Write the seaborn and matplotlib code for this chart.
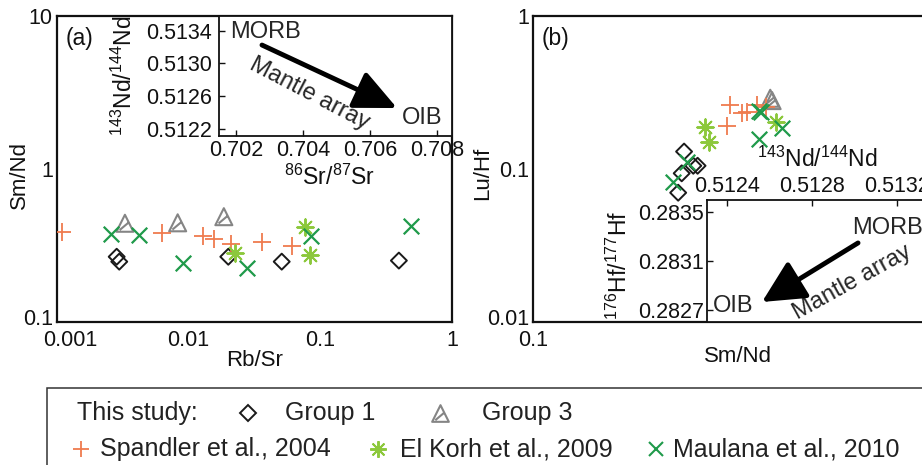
import numpy as np
import pandas as pd
import matplotlib
matplotlib.use("Agg")
import matplotlib.pyplot as plt
import seaborn as sns
from matplotlib.path import Path
from matplotlib.lines import Line2D
from matplotlib.patches import Rectangle
from matplotlib.transforms import ScaledTranslation

# ---------------- data: panel (a)  Rb/Sr vs Sm/Nd ----------------
a_g1_rbsr = [0.00284, 0.00297, 0.020, 0.0509, 0.395]
a_g1_smnd = [0.267, 0.248, 0.267, 0.248, 0.252]
a_g3_rbsr = [0.00328, 0.00825, 0.0185]
a_g3_smnd = [0.442, 0.445, 0.488]
a_sp_rbsr = [0.0011, 0.0063, 0.0129, 0.0156, 0.021, 0.0362, 0.0612]
a_sp_smnd = [0.386, 0.38, 0.365, 0.348, 0.324, 0.335, 0.314]
a_ek_rbsr = [0.0226, 0.0769, 0.0834]
a_ek_smnd = [0.284, 0.416, 0.273]
a_ma_rbsr = [0.00257, 0.00422, 0.009, 0.0279, 0.0848, 0.485]
a_ma_smnd = [0.376, 0.37, 0.244, 0.224, 0.366, 0.424]

# ---------------- data: panel (b)  Sm/Nd vs Lu/Hf ----------------
b_g1_smnd = [0.2336, 0.246, 0.252, 0.2305, 0.226]
b_g1_luhf = [0.130, 0.105, 0.105, 0.0937, 0.070]
b_g3_smnd = [0.379, 0.383]
b_g3_luhf = [0.29, 0.28]
b_sp_smnd = [0.303, 0.297, 0.323, 0.332, 0.351, 0.370]
b_sp_luhf = [0.262, 0.191, 0.231, 0.235, 0.262, 0.254]
b_ek_smnd = [0.262, 0.268, 0.392]
b_ek_luhf = [0.189, 0.151, 0.204]
b_ma_smnd = [0.220, 0.237, 0.355, 0.356, 0.360, 0.406]
b_ma_luhf = [0.0826, 0.1116, 0.156, 0.240, 0.235, 0.1845]

# ---------------- tick labels ----------------
a_xticks = [0.001, 0.01, 0.1, 1]
a_xticklabels = ["0.001", "0.01", "0.1", "1"]
a_yticks = [0.1, 1, 10]
a_yticklabels = ["0.1", "1", "10"]
b_xticks = [0.1, 1]
b_xticklabels = ["0.1", "1"]
b_yticks = [0.01, 0.1, 1]
b_yticklabels = ["0.01", "0.1", "1"]
ia_xticks = [0.702, 0.704, 0.706, 0.708]
ia_yticks = [0.5122, 0.5126, 0.5130, 0.5134]
ib_xticks = [0.5124, 0.5128, 0.5132]
ib_yticks = [0.2827, 0.2831, 0.2835]

legend_row1 = ["This study:", "Group 1", "Group 3"]
legend_row2 = ["Spandler et al., 2004", "El Korh et al., 2009", "Maulana et al., 2010"]

# ---------------- style ----------------
sns.set_theme(style="white")
plt.rcParams["font.family"] = ["Liberation Sans", "DejaVu Sans"]
plt.rcParams["mathtext.fontset"] = "custom"
plt.rcParams["mathtext.rm"] = "Liberation Sans"
plt.rcParams["mathtext.it"] = "Liberation Sans:italic"
plt.rcParams["mathtext.default"] = "regular"

C_SP = "#ef7b4e"
C_EK = "#8cc83c"
C_MA = "#1f9a4a"
C_G3 = "#858585"
C_G1 = "#1a1a1a"
TXT = "#111111"

tri_path = Path(
    [(0, 1), (-1, -1), (1, -1), (0, 1), (-0.62, -0.8), (0.45, 0.1)],
    [Path.MOVETO, Path.LINETO, Path.LINETO, Path.CLOSEPOLY, Path.MOVETO, Path.LINETO],
)
STAR = (8, 2, 0)

W, H = 922, 465
fig = plt.figure(figsize=(W / 100, H / 100), dpi=100)

def frac(px_l, py_t, px_r, py_b):
    return [px_l / W, 1 - py_b / H, (px_r - px_l) / W, (py_b - py_t) / H]

ax_a = fig.add_axes(frac(57, 16, 452, 322))
ax_b = fig.add_axes(frac(533, 16, 943, 322))
ax_ia = fig.add_axes(frac(219, 16, 452, 136))
ax_ib = fig.add_axes(frac(707, 200, 943, 322))

def draw(ax, g1x, g1y, g3x, g3y, spx, spy, ekx, eky, max_, may):
    sns.scatterplot(x=g1x, y=g1y, ax=ax, marker="D", s=66, facecolor="none",
                    edgecolor=C_G1, linewidth=1.4, zorder=3)
    sns.scatterplot(x=g3x, y=g3y, ax=ax, marker=tri_path, s=150, facecolor="none",
                    edgecolor=C_G3, linewidth=1.5, zorder=3)
    sns.scatterplot(x=spx, y=spy, ax=ax, marker="+", s=160, color=C_SP,
                    linewidth=1.3, zorder=3)
    sns.scatterplot(x=ekx, y=eky, ax=ax, marker=STAR, s=140, color=C_EK,
                    linewidth=1.4, zorder=3)
    sns.scatterplot(x=max_, y=may, ax=ax, marker="x", s=125, color=C_MA,
                    linewidth=1.6, zorder=3)

draw(ax_a, a_g1_rbsr, a_g1_smnd, a_g3_rbsr, a_g3_smnd, a_sp_rbsr, a_sp_smnd,
     a_ek_rbsr, a_ek_smnd, a_ma_rbsr, a_ma_smnd)
draw(ax_b, b_g1_smnd, b_g1_luhf, b_g3_smnd, b_g3_luhf, b_sp_smnd, b_sp_luhf,
     b_ek_smnd, b_ek_luhf, b_ma_smnd, b_ma_luhf)

TF = 15.5
for ax, xl, yl, xt, xtl, yt, ytl, xlab, ylab, tag in [
    (ax_a, (0.001, 1), (0.1, 10), a_xticks, a_xticklabels, a_yticks, a_yticklabels, "Rb/Sr", "Sm/Nd", "(a)"),
    (ax_b, (0.1, 1), (0.01, 1), b_xticks, b_xticklabels, b_yticks, b_yticklabels, "Sm/Nd", "Lu/Hf", "(b)"),
]:
    ax.set_xscale("log")
    ax.set_yscale("log")
    ax.set_xlim(*xl)
    ax.set_ylim(*yl)
    ax.set_xticks(xt)
    ax.set_xticklabels(xtl)
    ax.set_yticks(yt)
    ax.set_yticklabels(ytl)
    ax.minorticks_off()
    ax.tick_params(axis="both", length=0, labelsize=TF, colors=TXT)
    ax.tick_params(axis="x", pad=6)
    ax.tick_params(axis="y", pad=3)
    for sp in ax.spines.values():
        sp.set_linewidth(1.6)
        sp.set_color(TXT)
    ax.set_xlabel(xlab, fontsize=16, color=TXT)
    ax.set_ylabel(ylab, fontsize=16, color=TXT)
    ax.text(0.022, 0.928, tag, transform=ax.transAxes, fontsize=16.5,
            va="center", ha="left", color=TXT)
    # lowest y tick label sits slightly above the corner
    ylbls = ax.get_yticklabels()
    ylbls[0].set_transform(ylbls[0].get_transform() + ScaledTranslation(0, 0.05, fig.dpi_scale_trans))

ax_a.xaxis.set_label_coords(0.5, -0.092)
ax_a.yaxis.set_label_coords(-0.068, 0.48)
ax_b.xaxis.set_label_coords(0.5, -0.08)
ax_b.yaxis.set_label_coords(-0.098, 0.487)

# shift first x tick label of panel (a)
for lbl in ax_a.get_xticklabels():
    if lbl.get_text() == "0.001":
        lbl.set_transform(lbl.get_transform() + ScaledTranslation(0.13, 0, fig.dpi_scale_trans))

# ---------------- inset (a) ----------------
ax_ia.set_xlim(0.70149, 0.70845)
ax_ia.set_ylim(0.51211, 0.51358)
ax_ia.set_xticks(ia_xticks)
ax_ia.set_xticklabels([f"{v:.3f}" for v in ia_xticks])
ax_ia.set_yticks(ia_yticks)
ax_ia.set_yticklabels([f"{v:.4f}" for v in ia_yticks])
ax_ia.tick_params(axis="both", direction="in", length=4, width=1.0, labelsize=TF,
                  colors=TXT, left=True, bottom=True)
ax_ia.tick_params(axis="y", pad=5)
ax_ia.tick_params(axis="x", pad=3)
for sp in ax_ia.spines.values():
    sp.set_linewidth(1.3)
    sp.set_color(TXT)
ax_ia.set_facecolor("white")
ax_ia.set_xlabel("$^{86}$Sr/$^{87}$Sr", fontsize=16.5, color=TXT)
ax_ia.set_ylabel("$^{143}$Nd/$^{144}$Nd", fontsize=16.5, color=TXT)
ax_ia.xaxis.set_label_coords(0.476, -0.24)
ax_ia.yaxis.set_label_coords(-0.352, 0.5)

ax_ia.text(0.047, 0.8625, "MORB", transform=ax_ia.transAxes, fontsize=17, va="center", ha="left")
ax_ia.text(0.785, 0.154, "OIB", transform=ax_ia.transAxes, fontsize=17, va="center", ha="left")
ax_ia.text(0.386, 0.354, "Mantle array", transform=ax_ia.transAxes, fontsize=17,
           va="center", ha="center", rotation=-27.6, rotation_mode="anchor")
ax_ia.annotate("", xy=(0.764, 0.233), xytext=(0.1845, 0.758),
               xycoords="axes fraction", textcoords="axes fraction",
               arrowprops=dict(arrowstyle="-|>,head_length=1.3,head_width=0.6",
                               lw=3.5, color="black", mutation_scale=20,
                               shrinkA=0, shrinkB=0))

# ---------------- inset (b) ----------------
ax_ib.set_xlim(0.512306, 0.513416)
ax_ib.set_ylim(0.2826055, 0.283595)
ax_ib.xaxis.tick_top()
ax_ib.xaxis.set_label_position("top")
ax_ib.set_xticks(ib_xticks)
ax_ib.set_xticklabels([f"{v:.4f}" for v in ib_xticks])
ax_ib.set_yticks(ib_yticks)
ax_ib.set_yticklabels([f"{v:.4f}" for v in ib_yticks])
ax_ib.tick_params(axis="both", direction="in", length=4, width=1.0, labelsize=TF,
                  colors=TXT, left=True, top=True, bottom=False)
ax_ib.tick_params(axis="y", pad=2)
ax_ib.tick_params(axis="x", pad=2)
for sp in ax_ib.spines.values():
    sp.set_linewidth(1.3)
    sp.set_color(TXT)
ax_ib.set_facecolor("white")
ax_ib.set_xlabel("$^{143}$Nd/$^{144}$Nd", fontsize=16.5, color=TXT)
ax_ib.set_ylabel("$^{176}$Hf/$^{177}$Hf", fontsize=16.5, color=TXT)
ax_ib.xaxis.set_label_coords(0.466, 1.27)
ax_ib.yaxis.set_label_coords(-0.318, 0.467)

ax_ib.text(0.614, 0.77, "MORB", transform=ax_ib.transAxes, fontsize=17, va="center", ha="left")
ax_ib.text(0.025, 0.131, "OIB", transform=ax_ib.transAxes, fontsize=17, va="center", ha="left")
ax_ib.text(0.614, 0.328, "Mantle array", transform=ax_ib.transAxes, fontsize=17,
           va="center", ha="center", rotation=29, rotation_mode="anchor")
ax_ib.annotate("", xy=(0.233, 0.164), xytext=(0.64, 0.648),
               xycoords="axes fraction", textcoords="axes fraction",
               arrowprops=dict(arrowstyle="-|>,head_length=1.3,head_width=0.65",
                               lw=3.5, color="black", mutation_scale=20,
                               shrinkA=0, shrinkB=0))

# ---------------- legend box ----------------
fig.add_artist(Rectangle((47 / W, -0.1), 1.0, 0.1 + (1 - 388 / H), transform=fig.transFigure,
                         fill=False, lw=1.1, edgecolor="#333333", clip_on=False))
LF = 18
r1 = 1 - 413 / H
r2 = 1 - 449 / H
fig.text(77 / W, r1, legend_row1[0], fontsize=LF, va="center", ha="left", color="#222222")
fig.add_artist(Line2D([248 / W], [r1], transform=fig.transFigure, marker="D", ms=8.5,
                      mfc="none", mec=C_G1, mew=1.4, ls="none"))
fig.text(285 / W, r1, legend_row1[1], fontsize=LF, va="center", ha="left", color="#222222")
fig.add_artist(Line2D([440 / W], [r1], transform=fig.transFigure, marker=tri_path, ms=12,
                      mfc="none", mec=C_G3, mew=1.5, ls="none"))
fig.text(482 / W, r1, legend_row1[2], fontsize=LF, va="center", ha="left", color="#222222")

fig.add_artist(Line2D([81 / W], [r2], transform=fig.transFigure, marker="+", ms=12,
                      mec=C_SP, mew=1.3, ls="none"))
fig.text(100 / W, r2, legend_row2[0], fontsize=LF, va="center", ha="left", color="#222222")
fig.add_artist(Line2D([378 / W], [r2], transform=fig.transFigure, marker=STAR, ms=12,
                      mec=C_EK, mew=1.4, ls="none"))
fig.text(400 / W, r2, legend_row2[1], fontsize=LF, va="center", ha="left", color="#222222")
fig.add_artist(Line2D([656 / W], [r2], transform=fig.transFigure, marker="x", ms=10,
                      mec=C_MA, mew=1.5, ls="none"))
fig.text(673 / W, r2, legend_row2[2], fontsize=LF, va="center", ha="left", color="#222222")

fig.savefig("out.png", dpi=100)
